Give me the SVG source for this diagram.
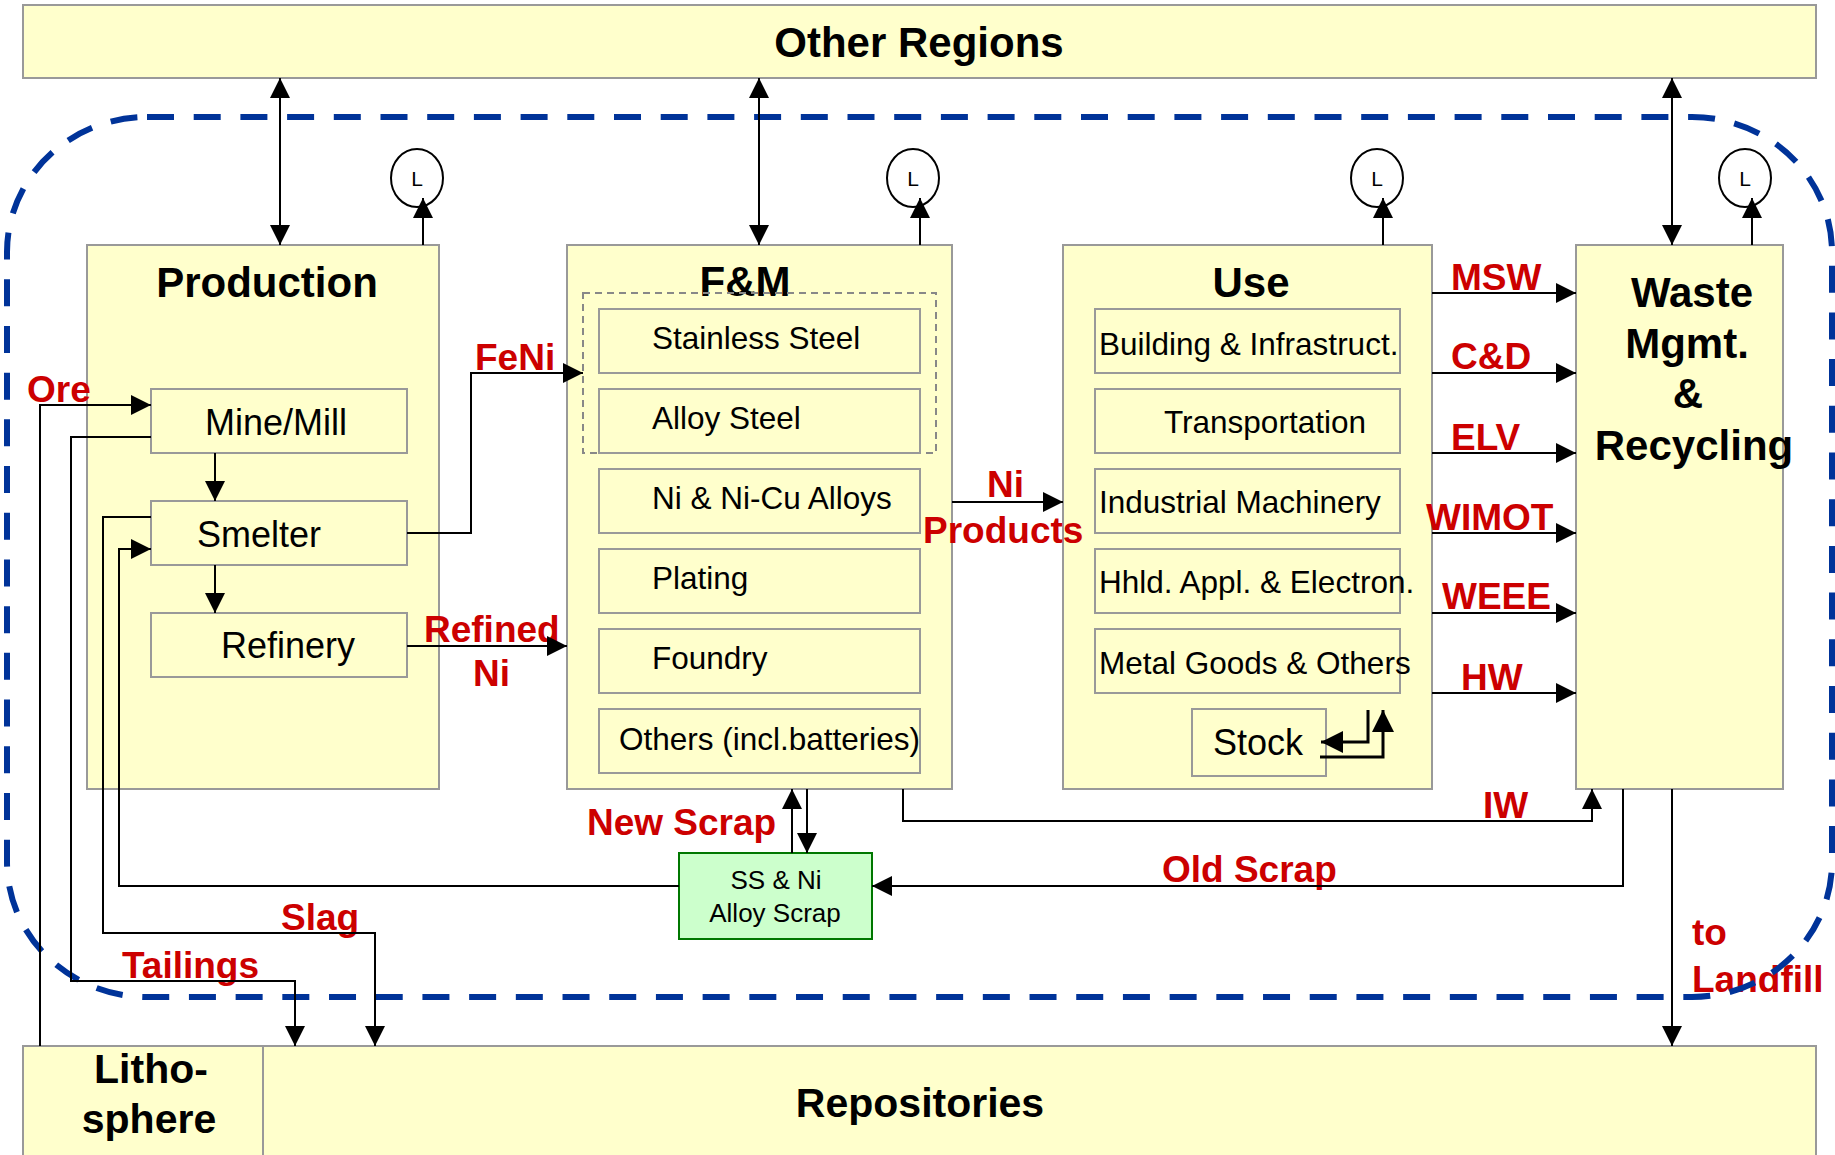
<svg xmlns="http://www.w3.org/2000/svg" width="1835" height="1155" viewBox="0 0 1835 1155">
<style>
.box{fill:#ffffcc;stroke:#999999;stroke-width:2}
.sub{fill:#ffffcc;stroke:#999999;stroke-width:2}
.title{font-family:"Liberation Sans",Arial,sans-serif;font-weight:bold;font-size:42px;fill:#000;text-anchor:middle}
.t{font-family:"Liberation Sans",Arial,sans-serif;font-size:31.5px;fill:#000}
.t36{font-family:"Liberation Sans",Arial,sans-serif;font-size:36px;fill:#000;text-anchor:middle}
.lab{font-family:"Liberation Sans",Arial,sans-serif;font-weight:bold;font-size:37px;fill:#cc0000}
.ln{fill:none;stroke:#000;stroke-width:2}
.arr{fill:none;stroke:#000;stroke-width:2;marker-end:url(#ah)}
.dbl{fill:none;stroke:#000;stroke-width:2;marker-end:url(#ah);marker-start:url(#ah)}
.lc{fill:none;stroke:#000;stroke-width:2}
.lt{font-family:"Liberation Sans",Arial,sans-serif;font-size:21px;fill:#000;text-anchor:middle}
</style>
<defs>
<marker id="ah" markerUnits="userSpaceOnUse" markerWidth="20" markerHeight="20" refX="20" refY="10" orient="auto-start-reverse" viewBox="0 0 20 20">
<path d="M0,0 L20,10 L0,20 z" fill="#000"/>
</marker>
<marker id="ah2" markerUnits="userSpaceOnUse" markerWidth="22" markerHeight="22" refX="22" refY="11" orient="auto" viewBox="0 0 22 22">
<path d="M0,0 L22,11 L0,22 z" fill="#000"/>
</marker>
</defs>
<rect width="1835" height="1155" fill="#ffffff"/>

<g id="other-regions">
<rect class="box" x="23" y="5" width="1793" height="73"/>
<text class="title" x="919" y="57">Other Regions</text>
</g>

<g id="lithosphere">
<rect class="box" x="23" y="1046" width="240" height="120"/>
<text class="title" x="151" y="1083" style="font-size:41px">Litho-</text>
<text class="title" x="149" y="1133" style="font-size:41px">sphere</text>
</g>
<g id="repositories">
<rect class="box" x="263" y="1046" width="1553" height="120"/>
<text class="title" x="920" y="1117" style="font-size:41px">Repositories</text>
</g>

<g id="production">
<rect class="box" x="87" y="245" width="352" height="544"/>
<text class="title" x="267" y="297">Production</text>
</g>
<g id="mine-mill">
<rect class="sub" x="151" y="389" width="256" height="64"/>
<text class="t36" x="276" y="435">Mine/Mill</text>
</g>
<g id="smelter">
<rect class="sub" x="151" y="501" width="256" height="64"/>
<text class="t36" x="259" y="547">Smelter</text>
</g>
<g id="refinery">
<rect class="sub" x="151" y="613" width="256" height="64"/>
<text class="t36" x="288" y="658">Refinery</text>
</g>

<g id="fm">
<rect class="box" x="567" y="245" width="385" height="544"/>
<text class="title" x="745" y="296">F&amp;M</text>
<rect x="583" y="293" width="353" height="160" fill="none" stroke="#888888" stroke-width="2" stroke-dasharray="7,5"/>
</g>
<g id="stainless-steel">
<rect class="sub" x="599" y="309" width="321" height="64"/>
<text class="t" x="652" y="349">Stainless Steel</text>
</g>
<g id="alloy-steel">
<rect class="sub" x="599" y="389" width="321" height="64"/>
<text class="t" x="652" y="429">Alloy Steel</text>
</g>
<g id="ni-alloys">
<rect class="sub" x="599" y="469" width="321" height="64"/>
<text class="t" x="652" y="509">Ni &amp; Ni-Cu Alloys</text>
</g>
<g id="plating">
<rect class="sub" x="599" y="549" width="321" height="64"/>
<text class="t" x="652" y="589">Plating</text>
</g>
<g id="foundry">
<rect class="sub" x="599" y="629" width="321" height="64"/>
<text class="t" x="652" y="669">Foundry</text>
</g>
<g id="others">
<rect class="sub" x="599" y="709" width="321" height="64"/>
<text class="t" x="619" y="750">Others (incl.batteries)</text>
</g>

<g id="use">
<rect class="box" x="1063" y="245" width="369" height="544"/>
<text class="title" x="1251" y="297">Use</text>
</g>
<g id="building">
<rect class="sub" x="1095" y="309" width="305" height="64"/>
<text class="t" x="1099" y="355">Building &amp; Infrastruct.</text>
</g>
<g id="transportation">
<rect class="sub" x="1095" y="389" width="305" height="64"/>
<text class="t" x="1164" y="433">Transportation</text>
</g>
<g id="industrial">
<rect class="sub" x="1095" y="469" width="305" height="64"/>
<text class="t" x="1099" y="513">Industrial Machinery</text>
</g>
<g id="household">
<rect class="sub" x="1095" y="549" width="305" height="64"/>
<text class="t" x="1099" y="593">Hhld. Appl. &amp; Electron.</text>
</g>
<g id="metal-goods">
<rect class="sub" x="1095" y="629" width="305" height="64"/>
<text class="t" x="1099" y="674">Metal Goods &amp; Others</text>
</g>
<g id="stock">
<rect class="sub" x="1192" y="709" width="134" height="67"/>
<text class="t36" x="1258" y="755">Stock</text>
</g>

<g id="waste">
<rect class="box" x="1576" y="245" width="207" height="544"/>
<text class="title" x="1692" y="307">Waste</text>
<text class="title" x="1687" y="358">Mgmt.</text>
<text class="title" x="1688" y="408">&amp;</text>
<text class="title" x="1694" y="460">Recycling</text>
</g>

<g id="scrap">
<rect x="679" y="853" width="193" height="86" fill="#ccffcc" stroke="#007700" stroke-width="2"/>
<text class="t" x="776" y="889" style="font-size:26px;text-anchor:middle">SS &amp; Ni</text>
<text class="t" x="775" y="922" style="font-size:26px;text-anchor:middle">Alloy Scrap</text>
</g>

<g id="losses">
<ellipse class="lc" cx="417" cy="178" rx="26" ry="29"/>
<text class="lt" x="417" y="186">L</text>
<ellipse class="lc" cx="913" cy="178" rx="26" ry="29"/>
<text class="lt" x="913" y="186">L</text>
<ellipse class="lc" cx="1377" cy="178" rx="26" ry="29"/>
<text class="lt" x="1377" y="186">L</text>
<ellipse class="lc" cx="1745" cy="178" rx="26" ry="29"/>
<text class="lt" x="1745" y="186">L</text>
</g>

<g id="labels">
<text class="lab" x="27" y="402">Ore</text>
<text class="lab" x="475" y="370">FeNi</text>
<text class="lab" x="424" y="642">Refined</text>
<text class="lab" x="473" y="686">Ni</text>
<text class="lab" x="987" y="497">Ni</text>
<text class="lab" x="923" y="543">Products</text>
<text class="lab" x="1451" y="290">MSW</text>
<text class="lab" x="1451" y="369">C&amp;D</text>
<text class="lab" x="1451" y="450">ELV</text>
<text class="lab" x="1426" y="530">WIMOT</text>
<text class="lab" x="1442" y="609">WEEE</text>
<text class="lab" x="1461" y="690">HW</text>
<text class="lab" x="1483" y="818">IW</text>
<text class="lab" x="1162" y="882">Old Scrap</text>
<text class="lab" x="587" y="835">New Scrap</text>
<text class="lab" x="281" y="930">Slag</text>
<text class="lab" x="122" y="978">Tailings</text>
<text class="lab" x="1692" y="945">to</text>
<text class="lab" x="1692" y="992">Landfill</text>
</g>

<g id="boundary">
<rect x="7" y="117" width="1825" height="880" rx="140" ry="135" fill="none" stroke="#003399" stroke-width="6" stroke-dasharray="27,19.7"/>
</g>

<g id="connectors">
<path class="arr" d="M40,1046 V405 H151"/>
<path class="arr" d="M151,437 H71 V981 H295 V1046"/>
<path class="arr" d="M151,517 H103 V933 H375 V1046"/>
<path class="arr" d="M679,886 H119 V549 H151"/>
<path class="arr" d="M215,453 V501"/>
<path class="arr" d="M215,565 V613"/>
<path class="arr" d="M407,533 H471 V373 H583"/>
<path class="arr" d="M407,646 H567"/>
<path class="arr" d="M952,502 H1063"/>
<path class="arr" d="M1432,293 H1576"/>
<path class="arr" d="M1432,373 H1576"/>
<path class="arr" d="M1432,453 H1576"/>
<path class="arr" d="M1432,533 H1576"/>
<path class="arr" d="M1432,613 H1576"/>
<path class="arr" d="M1432,693 H1576"/>
<path class="arr" d="M903,789 V821 H1592 V789"/>
<path class="arr" d="M1623,789 V886 H872"/>
<path class="arr" d="M1672,789 V1046"/>
<path class="arr" d="M792,853 V789"/>
<path class="arr" d="M807,789 V853"/>
<path class="dbl" d="M280,78 V245"/>
<path class="dbl" d="M759,78 V245"/>
<path class="dbl" d="M1672,78 V245"/>
<path class="arr" d="M423,245 V198"/>
<path class="arr" d="M920,245 V198"/>
<path class="arr" d="M1383,245 V198"/>
<path class="arr" d="M1752,245 V198"/>
<path d="M1368,710 V742 H1321" fill="none" stroke="#000" stroke-width="3" marker-end="url(#ah2)"/>
<path d="M1320,757 H1383 V710" fill="none" stroke="#000" stroke-width="3" marker-end="url(#ah2)"/>
</g>
</svg>
